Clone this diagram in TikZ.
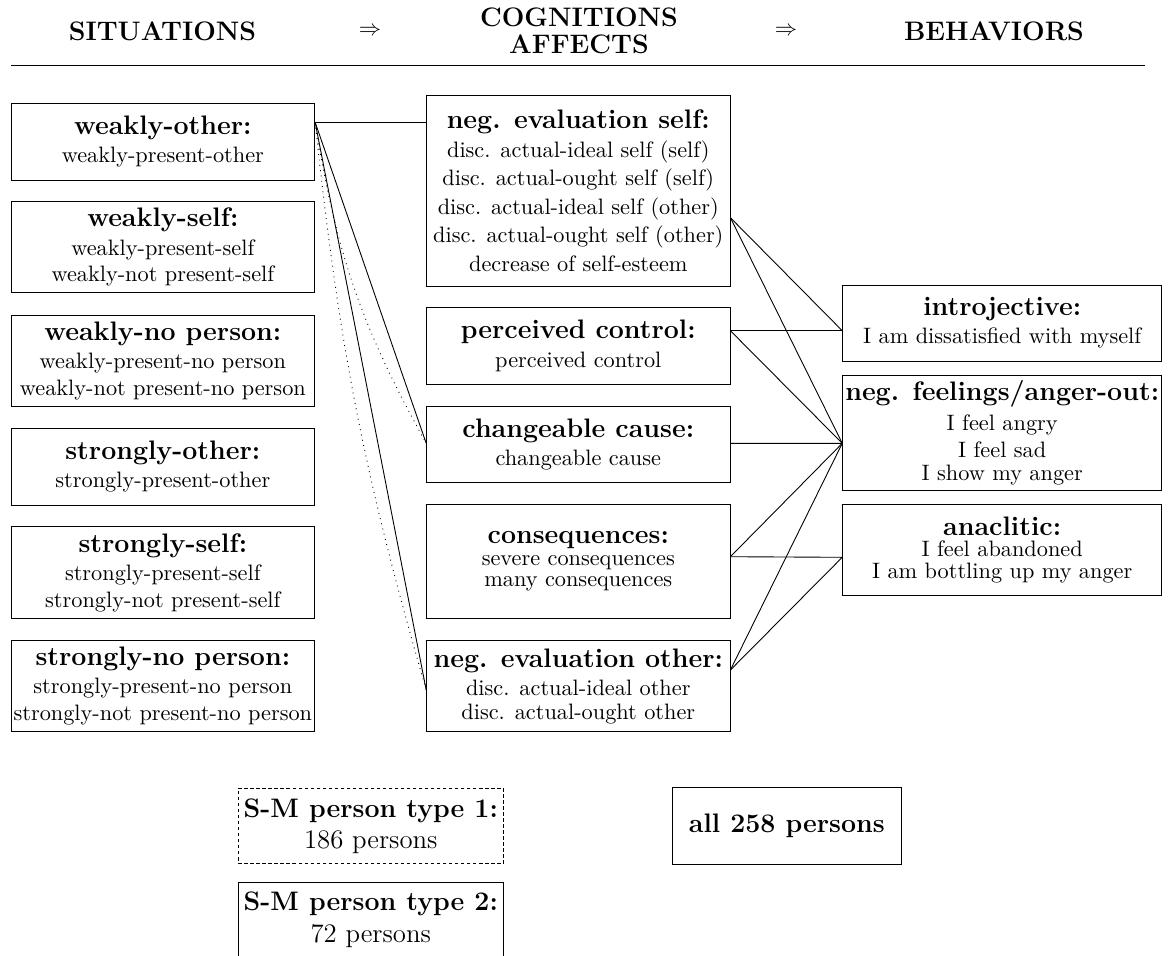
\documentclass[tikz,border=0pt]{standalone}
\usetikzlibrary{calc}
\begin{document}
\begin{tikzpicture}[x=0.4484pt,y=-0.4484pt,line width=0.4pt,
  box/.style 2 args={draw, align=center, inner sep=0pt,
    minimum width=#1*0.4484pt, minimum height=#2*0.4484pt},
  lbox/.style={box={303.7}{#1}},
  mbox/.style={box={303.3}{#1}},
  rbox/.style={box={319}{#1}},
  hd/.style={font=\large\bfseries, inner sep=0pt, anchor=base},
  arr/.style={inner sep=0pt},
  link/.style={line width=0.4pt},
  dlink/.style={line width=0.4pt, dotted}]
\useasboundingbox (0,0) rectangle (1168,955);

% header
\node[hd] (sit) at (162.5,40.7) {SITUATIONS};
\node[arr] (ar1) at (370,31) {$\Rightarrow$};
\node[inner sep=0pt, align=center] (cog) at (579,30.9)
  {{\large\bfseries COGNITIONS}\\{\large\bfseries AFFECTS}};
\node[arr] (ar2) at (786,31) {$\Rightarrow$};
\node[hd] (beh) at (994,40.7) {BEHAVIORS};
\coordinate (rl) at (11,65.7);
\coordinate (rr) at (1145,65.7);
\draw[line width=0.6pt] (rl) -- (rr);

% situations
\node[lbox=76.7] (wo) at (162.85,141.7)
  {{\large\bfseries weakly-other:}\\[0.7pt] weakly-present-other};
\node[lbox=91] (ws) at (162.85,247.2)
  {{\large\bfseries weakly-self:}\\[0.7pt] weakly-present-self\\ weakly-not present-self};
\node[lbox=91.7] (wn) at (162.85,360.8)
  {{\large\bfseries weakly-no person:}\\[0.7pt] weakly-present-no person\\ weakly-not present-no person};
\node[lbox=76.7] (so) at (162.85,466.7)
  {{\large\bfseries strongly-other:}\\[0.7pt] strongly-present-other};
\node[lbox=91.6] (ss) at (162.85,572.5)
  {{\large\bfseries strongly-self:}\\[0.7pt] strongly-present-self\\ strongly-not present-self};
\node[lbox=91.7] (sn) at (162.85,685.8)
  {{\large\bfseries strongly-no person:}\\[0.7pt] strongly-present-no person\\ strongly-not present-no person};

% cognitions / affects
\node[mbox=191] (nes) at (578.3,190.5)
  {{\large\bfseries neg. evaluation self:}\\[0.9pt]
   disc. actual-ideal self (self)\\[0.8pt]
   disc. actual-ought self (self)\\[0.8pt]
   disc. actual-ideal self (other)\\[0.8pt]
   disc. actual-ought self (other)\\[0.8pt]
   decrease of self-esteem};
\node[mbox=76.3] (pc) at (578.3,345.8)
  {{\large\bfseries perceived control:}\\[0.9pt] perceived control};
\node[mbox=76.3] (cc) at (578.3,444.2)
  {{\large\bfseries changeable cause:}\\[0.7pt] changeable cause};
\node[mbox=114.3] (con) at (578.3,561.2)
  {{\large\bfseries consequences:}\\[-2pt] severe consequences\\[-2.6pt] many consequences};
\node[mbox=91] (neo) at (578.3,686.2)
  {{\large\bfseries neg. evaluation other:}\\[0.7pt] disc. actual-ideal other\\[-1.5pt] disc. actual-ought other};

% behaviors
\node[rbox=76] (intro) at (1002.2,323)
  {{\large\bfseries introjective:}\\[0.7pt] I am dissatisfied with myself};
\node[rbox=114.3] (nf) at (1002.2,432.8)
  {{\large\bfseries neg. feelings/anger-out:}\\[1.5pt] I feel angry\\[0.2pt] I feel sad\\[-1.8pt] I show my anger};
\node[rbox=90.7] (ana) at (1002.2,549.7)
  {{\large\bfseries anaclitic:}\\[-2.6pt] I feel abandoned\\[-2pt] I am bottling up my anger};

% person types
\node[box={265}{75.5}, font=\large, dash pattern=on 1.5pt off 1.2pt] (t1) at (370.8,826)
  {\textbf{S-M person type 1:}\\ 186 persons};
\node[box={265}{75.5}, font=\large] (t2) at (370.8,919.8)
  {\textbf{S-M person type 2:}\\ 72 persons};
\node[box={228.3}{76.6}, font=\large\bfseries] (all) at (786.8,826) {all 258 persons};

% connection points
\coordinate (woR)   at ($(wo.east)+(0,-19.4)$);
\coordinate (nesL)  at ($(nes.west)+(0,-68.2)$);
\coordinate (ccL)   at ($(cc.west)+(0,-0.9)$);
\coordinate (neoL)  at ($(neo.west)+(0,3.8)$);
\coordinate (nesR)  at ($(nes.east)+(0,27.2)$);
\coordinate (pcR)   at ($(pc.east)+(0,-15.1)$);
\coordinate (ccR)   at ($(cc.east)+(0,-0.9)$);
\coordinate (conR)  at ($(con.east)+(0,-4.5)$);
\coordinate (neoR)  at ($(neo.east)+(0,-16.2)$);
\coordinate (introL) at ($(intro.west)+(0,7.7)$);
\coordinate (nfL)   at ($(nf.west)+(0,10.5)$);
\coordinate (anaL)  at ($(ana.west)+(0,7.6)$);

% situation -> cognition
\draw[link] (woR) -- (nesL);
\draw[link] (woR) -- (ccL);
\draw[link] (woR) -- (neoL);
\draw[dlink] (woR) to[bend right=10] (ccL);
\draw[dlink] (woR) to[bend right=5] (neoL);

% cognition -> behavior
\draw[link] (nesR) -- (introL);
\draw[link] (nesR) -- (nfL);
\draw[link] (pcR) -- (introL);
\draw[link] (pcR) -- (nfL);
\draw[link] (ccR) -- (nfL);
\draw[link] (conR) -- (nfL);
\draw[link] (conR) -- (anaL);
\draw[link] (neoR) -- (nfL);
\draw[link] (neoR) -- (anaL);
\end{tikzpicture}
\end{document}
